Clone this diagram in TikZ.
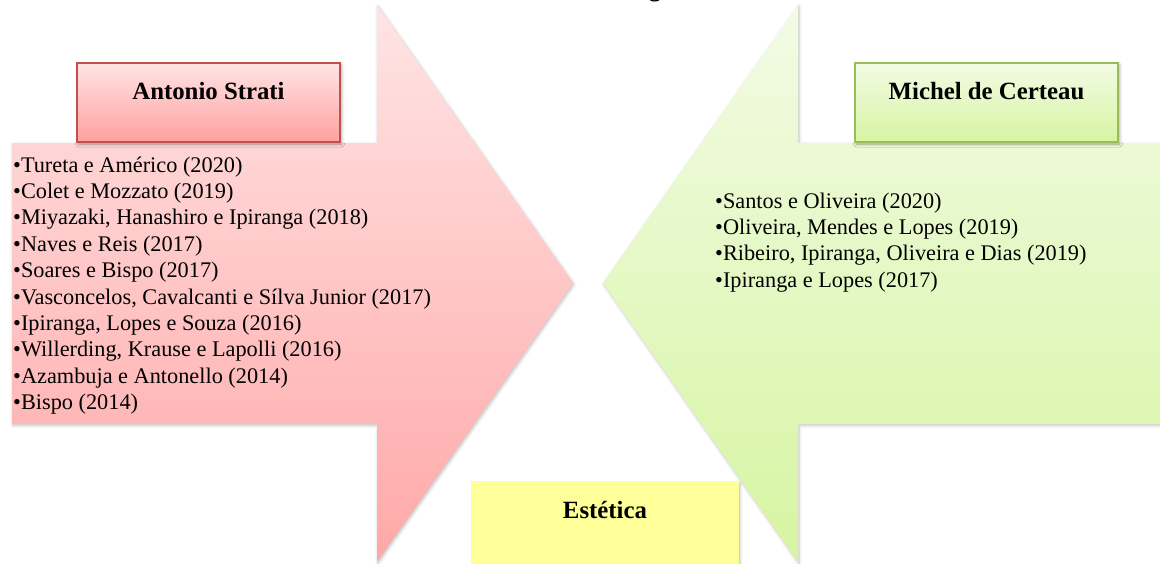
\documentclass[tikz,border=0pt]{standalone}
\usepackage{fontspec}
\setmainfont{Liberation Serif}
\usetikzlibrary{shadows.blur}
\definecolor{stratiLine}{HTML}{C0504D}
\definecolor{stratiTop}{HTML}{FFE4E4}
\definecolor{stratiBottom}{HTML}{FFA8A8}
\definecolor{certeauLine}{HTML}{9BBB59}
\definecolor{certeauTop}{HTML}{F2FBE5}
\definecolor{certeauBottom}{HTML}{D6F5A2}
\definecolor{esteticaFill}{HTML}{FFFF99}

\begin{document}
\begin{tikzpicture}[x=1pt,y=-1pt,
 titlebox/.style={draw=#1,line width=1.3pt,font=\fontsize{24.8}{28}\selectfont\bfseries,
  minimum width=263pt,inner sep=0pt,text height=36pt,text depth=43pt,anchor=base,
  blur shadow={shadow xshift=1.5pt,shadow yshift=-2pt,shadow blur radius=3pt,shadow opacity=35}},
 item/.style={font=\fontsize{22.3}{26}\selectfont,inner sep=0pt,anchor=base west},
 arrowshadow/.style={blur shadow={shadow xshift=1pt,shadow yshift=-1.5pt,
  shadow blur radius=3pt,shadow opacity=25}},
 ]
 \useasboundingbox (0,0) rectangle (1160,563);
 % the two opposing arrows
 \path[arrowshadow,top color=stratiTop,bottom color=stratiBottom]
  (12,143) -- (377,143) -- (377,5) -- (573,283) -- (377,562) -- (377,424) -- (12,424) -- cycle;
 \path[arrowshadow,top color=certeauTop,bottom color=certeauBottom]
  (1175,143) -- (798,143) -- (798,5) -- (603,283) -- (798,562) -- (798,424) -- (1175,424) -- cycle;
 % cut off heading
 \node[font=\fontsize{24.8}{28}\selectfont\bfseries,inner sep=0pt,anchor=base] (cut) at (655,-3.5) {g};
 \node[titlebox=stratiLine,top color=stratiTop,bottom color=stratiBottom!95!red] (strati) at (208.5,99) {Antonio Strati};
 \node[titlebox=certeauLine,top color=certeauTop,bottom color=certeauBottom] (certeau) at (986.5,99) {Michel de Certeau};
 \node[titlebox=esteticaFill,fill=esteticaFill,text depth=70pt,minimum width=266pt] (estetica) at (605,518) {Estética};
 \foreach \t [count=\i from 0] in {Tureta e Américo (2020),Colet e Mozzato (2019),
  {Miyazaki, Hanashiro e Ipiranga (2018)},Naves e Reis (2017),Soares e Bispo (2017),
  {Vasconcelos, Cavalcanti e Sílva Junior (2017)},{Ipiranga, Lopes e Souza (2016)},
  {Willerding, Krause e Lapolli (2016)},Azambuja e Antonello (2014),Bispo (2014)}
  \node[item] (strati-\i) at (13,172+26.4*\i) {\textbullet\t};
 \foreach \t [count=\i from 0] in {Santos e Oliveira (2020),{Oliveira, Mendes e Lopes (2019)},
  {Ribeiro, Ipiranga, Oliveira e Dias (2019)},Ipiranga e Lopes (2017)}
  \node[item] (certeau-\i) at (715,208+26.4*\i) {\textbullet\t};
\end{tikzpicture}
\end{document}
